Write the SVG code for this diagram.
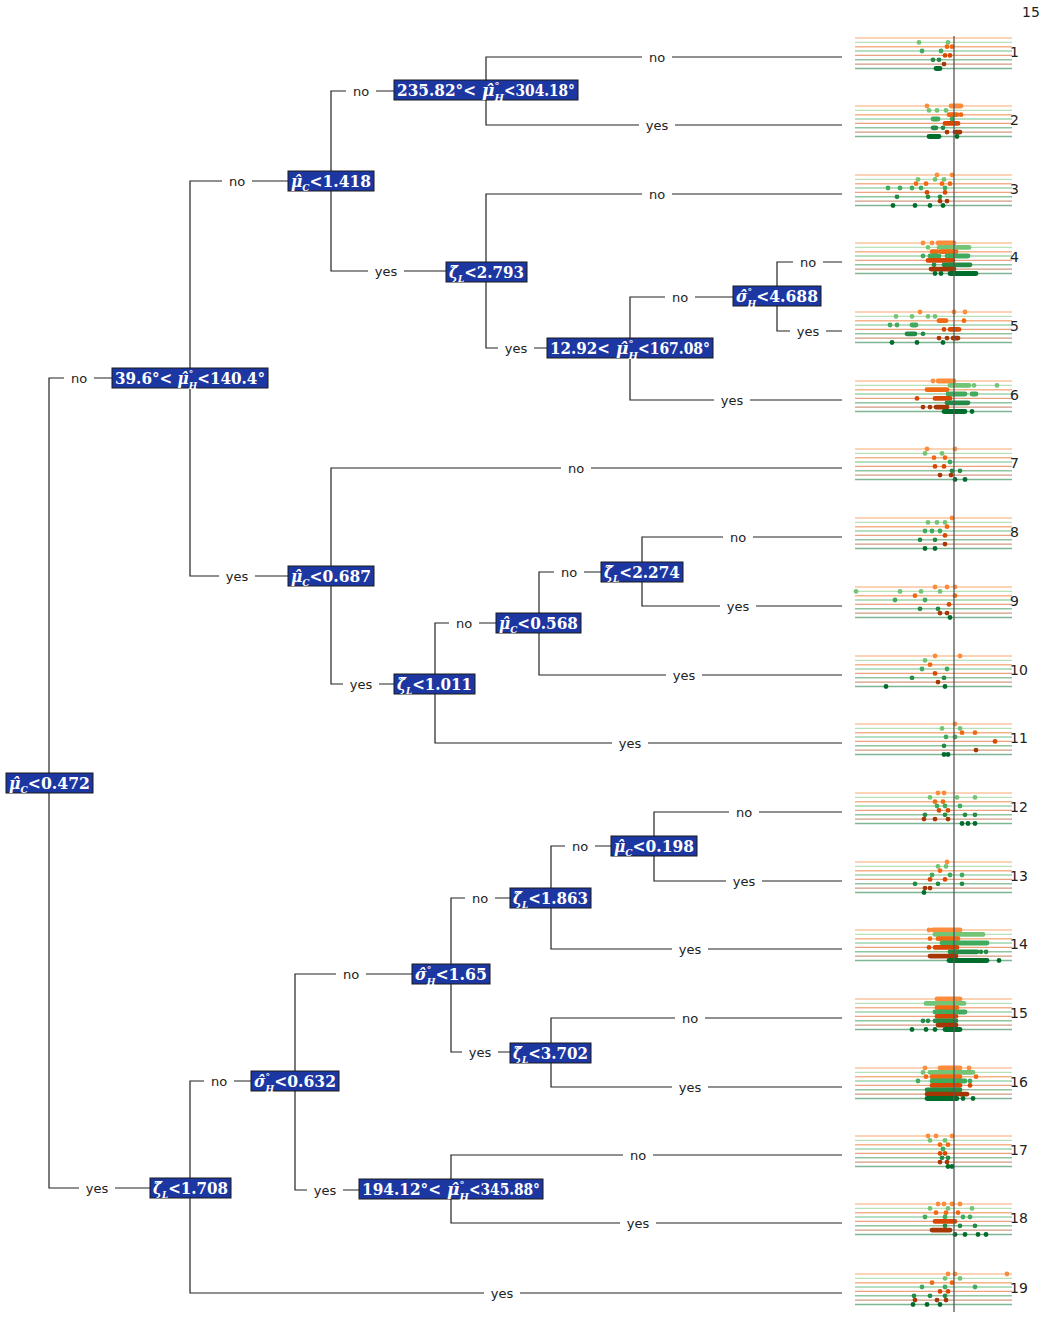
<svg xmlns="http://www.w3.org/2000/svg" width="1044" height="1336" viewBox="0 0 1044 1336">
<style>
.bx{fill:#1c36a2;stroke:#1a1a1a;stroke-width:1}
.bt{font-family:"DejaVu Serif","Liberation Serif",serif;font-weight:bold;font-size:17px;fill:#fff}
.i{font-style:italic}
.sb{font-size:10px}
.lb{font-family:"DejaVu Sans","Liberation Sans",sans-serif;font-size:13px;fill:#222;text-anchor:middle}
.nm{font-family:"DejaVu Sans","Liberation Sans",sans-serif;font-size:14px;fill:#222}
.cn{fill:none;stroke:#222;stroke-width:1.2}
.r0{fill:#fd8d3c;stroke:#fd8d3c}.r1{fill:#74c476;stroke:#74c476}.r2{fill:#f16913;stroke:#f16913}.r3{fill:#41ab5d;stroke:#41ab5d}
.r4{fill:#d94801;stroke:#d94801}.r5{fill:#238b45;stroke:#238b45}.r6{fill:#a63603;stroke:#a63603}.r7{fill:#006d2c;stroke:#006d2c}
.lf circle{stroke:none;r:2.4px}
.lf path{fill:none;stroke-width:4.8;stroke-linecap:round}
.ln line{stroke-width:1.4;opacity:.5}
</style>
<defs>
<g id="ln" class="ln">
<line class="r0" x1="855" x2="1012" y1="-19" y2="-19"/>
<line class="r1" x1="855" x2="1012" y1="-14.6" y2="-14.6"/>
<line class="r2" x1="855" x2="1012" y1="-10.3" y2="-10.3"/>
<line class="r3" x1="855" x2="1012" y1="-6" y2="-6"/>
<line class="r4" x1="855" x2="1012" y1="-1.6" y2="-1.6"/>
<line class="r5" x1="855" x2="1012" y1="2.8" y2="2.8"/>
<line class="r6" x1="855" x2="1012" y1="7.1" y2="7.1"/>
<line class="r7" x1="855" x2="1012" y1="11.5" y2="11.5"/>
</g>
</defs>
<rect width="1044" height="1336" fill="#fff"/>
<text class="nm" x="1022" y="17" font-size="13">15</text>

<g id="connectors">
<path class="cn" d="M64,378H49V1188H79M94,378H112M115,1188H150"/>
<path class="cn" d="M222,181H190V576H219M252,181H288M255,576H288"/>
<path class="cn" d="M346,91H331V271H368M376,91H394M404,271H446"/>
<path class="cn" d="M642,57H486V125H639M672,57H842M675,125H842"/>
<path class="cn" d="M642,194H486V348H498M672,194H842M534,348H547"/>
<path class="cn" d="M665,297H630V400H714M695,297H733M750,400H842"/>
<path class="cn" d="M793,262H777V331H790M823,262H842M826,331H842"/>
<path class="cn" d="M561,468H331V684H343M591,468H842M379,684H394"/>
<path class="cn" d="M449,623H435V743H612M479,623H496M648,743H842"/>
<path class="cn" d="M554,572H539V675H666M584,572H601M702,675H842"/>
<path class="cn" d="M723,537H642V606H720M753,537H842M756,606H842"/>
<path class="cn" d="M204,1081H190V1293H484M234,1081H251M520,1293H842"/>
<path class="cn" d="M336,974H295V1190H307M366,974H412M343,1190H359"/>
<path class="cn" d="M623,1155H451V1223H620M653,1155H842M656,1223H842"/>
<path class="cn" d="M465,898H451V1052H462M495,898H510M498,1052H510"/>
<path class="cn" d="M565,846H551V949H672M595,846H611M708,949H842"/>
<path class="cn" d="M729,812H654V881H726M759,812H842M762,881H842"/>
<path class="cn" d="M675,1018H551V1087H672M705,1018H842M708,1087H842"/>
<g class="lb">
<text x="79" y="383">no</text><text x="97" y="1193">yes</text>
<text x="237" y="186">no</text><text x="237" y="581">yes</text>
<text x="361" y="96">no</text><text x="386" y="276">yes</text>
<text x="657" y="62">no</text><text x="657" y="130">yes</text>
<text x="657" y="199">no</text><text x="516" y="353">yes</text>
<text x="680" y="302">no</text><text x="732" y="405">yes</text>
<text x="808" y="267">no</text><text x="808" y="336">yes</text>
<text x="576" y="473">no</text><text x="361" y="689">yes</text>
<text x="464" y="628">no</text><text x="630" y="748">yes</text>
<text x="569" y="577">no</text><text x="684" y="680">yes</text>
<text x="738" y="542">no</text><text x="738" y="611">yes</text>
<text x="219" y="1086">no</text><text x="502" y="1298">yes</text>
<text x="351" y="979">no</text><text x="325" y="1195">yes</text>
<text x="638" y="1160">no</text><text x="638" y="1228">yes</text>
<text x="480" y="903">no</text><text x="480" y="1057">yes</text>
<text x="580" y="851">no</text><text x="690" y="954">yes</text>
<text x="744" y="817">no</text><text x="744" y="886">yes</text>
<text x="690" y="1023">no</text><text x="690" y="1092">yes</text>
</g>
</g>

<g id="nR"><rect class="bx" x="6" y="773" width="87" height="20"/><text class="bt" x="9" y="789" textLength="81" lengthAdjust="spacingAndGlyphs"><tspan class="i">μ̂</tspan><tspan class="i sb" dy="4">C</tspan><tspan dy="-4">&lt;0.472</tspan></text></g>
<g id="nA"><rect class="bx" x="112" y="368" width="156" height="20"/><text class="bt" x="115" y="384" textLength="150" lengthAdjust="spacingAndGlyphs">39.6°&lt;<tspan class="i" dx="6">μ̂</tspan><tspan class="sb" dy="-7">°</tspan><tspan class="i sb" dx="-5" dy="12">H</tspan><tspan dy="-5">&lt;140.4°</tspan></text></g>
<g id="nB"><rect class="bx" x="288" y="171" width="86" height="20"/><text class="bt" x="291" y="187" textLength="80" lengthAdjust="spacingAndGlyphs"><tspan class="i">μ̂</tspan><tspan class="i sb" dy="4">C</tspan><tspan dy="-4">&lt;1.418</tspan></text></g>
<g id="nC"><rect class="bx" x="394" y="80" width="184" height="20"/><text class="bt" x="397" y="96" textLength="79" lengthAdjust="spacingAndGlyphs">235.82°&lt;</text><text class="bt" x="482" y="96"><tspan class="i">μ̂</tspan><tspan class="sb" dy="-7">°</tspan><tspan class="i sb" dx="-5" dy="12">H</tspan></text><text class="bt" x="504" y="96" textLength="71" lengthAdjust="spacingAndGlyphs">&lt;304.18°</text></g>
<g id="nD"><rect class="bx" x="446" y="262" width="81" height="20"/><text class="bt" x="449" y="278" textLength="75" lengthAdjust="spacingAndGlyphs"><tspan class="i">ζ̂</tspan><tspan class="i sb" dy="4">L</tspan><tspan dy="-4">&lt;2.793</tspan></text></g>
<g id="nF"><rect class="bx" x="547" y="338" width="166" height="20"/><text class="bt" x="550" y="354" textLength="60" lengthAdjust="spacingAndGlyphs">12.92&lt;</text><text class="bt" x="616" y="354"><tspan class="i">μ̂</tspan><tspan class="sb" dy="-7">°</tspan><tspan class="i sb" dx="-5" dy="12">H</tspan></text><text class="bt" x="638" y="354" textLength="72" lengthAdjust="spacingAndGlyphs">&lt;167.08°</text></g>
<g id="nG"><rect class="bx" x="733" y="286" width="88" height="20"/><text class="bt" x="736" y="302" textLength="82" lengthAdjust="spacingAndGlyphs"><tspan class="i">σ̂</tspan><tspan class="sb" dy="-7">°</tspan><tspan class="i sb" dx="-5" dy="12">H</tspan><tspan dy="-5">&lt;4.688</tspan></text></g>
<g id="nE"><rect class="bx" x="288" y="566" width="86" height="20"/><text class="bt" x="291" y="582" textLength="80" lengthAdjust="spacingAndGlyphs"><tspan class="i">μ̂</tspan><tspan class="i sb" dy="4">C</tspan><tspan dy="-4">&lt;0.687</tspan></text></g>
<g id="nH"><rect class="bx" x="394" y="674" width="81" height="20"/><text class="bt" x="397" y="690" textLength="75" lengthAdjust="spacingAndGlyphs"><tspan class="i">ζ̂</tspan><tspan class="i sb" dy="4">L</tspan><tspan dy="-4">&lt;1.011</tspan></text></g>
<g id="nI"><rect class="bx" x="496" y="613" width="85" height="20"/><text class="bt" x="499" y="629" textLength="79" lengthAdjust="spacingAndGlyphs"><tspan class="i">μ̂</tspan><tspan class="i sb" dy="4">C</tspan><tspan dy="-4">&lt;0.568</tspan></text></g>
<g id="nJ"><rect class="bx" x="601" y="562" width="82" height="20"/><text class="bt" x="604" y="578" textLength="76" lengthAdjust="spacingAndGlyphs"><tspan class="i">ζ̂</tspan><tspan class="i sb" dy="4">L</tspan><tspan dy="-4">&lt;2.274</tspan></text></g>
<g id="nK"><rect class="bx" x="150" y="1178" width="81" height="20"/><text class="bt" x="153" y="1194" textLength="75" lengthAdjust="spacingAndGlyphs"><tspan class="i">ζ̂</tspan><tspan class="i sb" dy="4">L</tspan><tspan dy="-4">&lt;1.708</tspan></text></g>
<g id="nL"><rect class="bx" x="251" y="1071" width="88" height="20"/><text class="bt" x="254" y="1087" textLength="82" lengthAdjust="spacingAndGlyphs"><tspan class="i">σ̂</tspan><tspan class="sb" dy="-7">°</tspan><tspan class="i sb" dx="-5" dy="12">H</tspan><tspan dy="-5">&lt;0.632</tspan></text></g>
<g id="nN"><rect class="bx" x="359" y="1179" width="184" height="20"/><text class="bt" x="362" y="1195" textLength="79" lengthAdjust="spacingAndGlyphs">194.12°&lt;</text><text class="bt" x="447" y="1195"><tspan class="i">μ̂</tspan><tspan class="sb" dy="-7">°</tspan><tspan class="i sb" dx="-5" dy="12">H</tspan></text><text class="bt" x="469" y="1195" textLength="71" lengthAdjust="spacingAndGlyphs">&lt;345.88°</text></g>
<g id="nM"><rect class="bx" x="412" y="964" width="78" height="20"/><text class="bt" x="415" y="980" textLength="72" lengthAdjust="spacingAndGlyphs"><tspan class="i">σ̂</tspan><tspan class="sb" dy="-7">°</tspan><tspan class="i sb" dx="-5" dy="12">H</tspan><tspan dy="-5">&lt;1.65</tspan></text></g>
<g id="nO"><rect class="bx" x="510" y="888" width="81" height="20"/><text class="bt" x="513" y="904" textLength="75" lengthAdjust="spacingAndGlyphs"><tspan class="i">ζ̂</tspan><tspan class="i sb" dy="4">L</tspan><tspan dy="-4">&lt;1.863</tspan></text></g>
<g id="nQ"><rect class="bx" x="611" y="836" width="86" height="20"/><text class="bt" x="614" y="852" textLength="80" lengthAdjust="spacingAndGlyphs"><tspan class="i">μ̂</tspan><tspan class="i sb" dy="4">C</tspan><tspan dy="-4">&lt;0.198</tspan></text></g>
<g id="nP"><rect class="bx" x="510" y="1043" width="81" height="20"/><text class="bt" x="513" y="1059" textLength="75" lengthAdjust="spacingAndGlyphs"><tspan class="i">ζ̂</tspan><tspan class="i sb" dy="4">L</tspan><tspan dy="-4">&lt;3.702</tspan></text></g>

<g id="leaf1" class="lf" transform="translate(0,57)"><use href="#ln"/>
<g class="r1" transform="translate(0,-14.6)"><circle cx="919"/><circle cx="948"/></g>
<g class="r2" transform="translate(0,-10.3)"><circle cx="947"/><circle cx="952"/></g>
<g class="r3" transform="translate(0,-6)"><circle cx="922"/><circle cx="941"/></g>
<g class="r4" transform="translate(0,-1.6)"><circle cx="945"/><circle cx="950"/></g>
<g class="r5" transform="translate(0,2.8)"><circle cx="933"/><circle cx="939"/></g>
<g class="r6" transform="translate(0,7.1)"><circle cx="944"/></g>
<g class="r7" transform="translate(0,11.5)"><path d="M936 0H940"/></g>
<text class="nm" x="1010" y="0">1</text></g>

<g id="leaf2" class="lf" transform="translate(0,125)"><use href="#ln"/>
<g class="r0" transform="translate(0,-19)"><circle cx="927"/><path d="M951 0H961"/></g>
<g class="r1" transform="translate(0,-14.6)"><circle cx="929"/><circle cx="937"/><circle cx="946"/></g>
<g class="r2" transform="translate(0,-10.3)"><path d="M949 0H957"/><circle cx="961"/></g>
<g class="r3" transform="translate(0,-6)"><path d="M933 0H938"/><circle cx="952"/></g>
<g class="r4" transform="translate(0,-1.6)"><path d="M945 0H958"/></g>
<g class="r5" transform="translate(0,2.8)"><path d="M933 0H936"/><circle cx="943"/></g>
<g class="r6" transform="translate(0,7.1)"><circle cx="947"/><path d="M955 0H960"/></g>
<g class="r7" transform="translate(0,11.5)"><path d="M929 0H939"/><circle cx="957"/></g>
<text class="nm" x="1010" y="0">2</text></g>

<g id="leaf3" class="lf" transform="translate(0,194)"><use href="#ln"/>
<g class="r0" transform="translate(0,-19)"><circle cx="937"/><circle cx="952"/></g>
<g class="r1" transform="translate(0,-14.6)"><circle cx="918"/><circle cx="935"/><circle cx="944"/></g>
<g class="r2" transform="translate(0,-10.3)"><circle cx="916"/><circle cx="926"/><circle cx="942"/><circle cx="950"/></g>
<g class="r3" transform="translate(0,-6)"><circle cx="888"/><circle cx="900"/><circle cx="912"/><circle cx="921"/><circle cx="945"/></g>
<g class="r4" transform="translate(0,-1.6)"><circle cx="927"/><circle cx="945"/></g>
<g class="r5" transform="translate(0,2.8)"><circle cx="897"/><circle cx="928"/><circle cx="940"/></g>
<g class="r6" transform="translate(0,7.1)"><circle cx="940"/><circle cx="947"/></g>
<g class="r7" transform="translate(0,11.5)"><circle cx="893"/><circle cx="915"/><circle cx="930"/><circle cx="943"/></g>
<text class="nm" x="1010" y="0">3</text></g>

<g id="leaf4" class="lf" transform="translate(0,262)"><use href="#ln"/>
<g class="r0" transform="translate(0,-19)"><circle cx="923"/><circle cx="932"/><path d="M938 0H954"/></g>
<g class="r1" transform="translate(0,-14.6)"><circle cx="928"/><path d="M939 0H956M958 0H969"/></g>
<g class="r2" transform="translate(0,-10.3)"><path d="M932 0H937M941 0H956"/></g>
<g class="r3" transform="translate(0,-6)"><circle cx="923"/><path d="M930 0H939M947 0H968"/></g>
<g class="r4" transform="translate(0,-1.6)"><path d="M928 0H953"/></g>
<g class="r5" transform="translate(0,2.8)"><circle cx="934"/><path d="M944 0H970"/></g>
<g class="r6" transform="translate(0,7.1)"><path d="M931 0H954"/></g>
<g class="r7" transform="translate(0,11.5)"><circle cx="935"/><circle cx="941"/><path d="M950 0H976"/></g>
<text class="nm" x="1010" y="0">4</text></g>

<g id="leaf5" class="lf" transform="translate(0,331)"><use href="#ln"/>
<g class="r0" transform="translate(0,-19)"><circle cx="920"/><circle cx="954"/><circle cx="965"/></g>
<g class="r1" transform="translate(0,-14.6)"><circle cx="896"/><circle cx="912"/><circle cx="928"/><circle cx="935"/></g>
<g class="r2" transform="translate(0,-10.3)"><path d="M939 0H946"/><circle cx="964"/></g>
<g class="r3" transform="translate(0,-6)"><circle cx="890"/><circle cx="897"/><path d="M912 0H916"/></g>
<g class="r4" transform="translate(0,-1.6)"><circle cx="944"/><path d="M950 0H959"/></g>
<g class="r5" transform="translate(0,2.8)"><path d="M907 0H915"/><circle cx="923"/></g>
<g class="r6" transform="translate(0,7.1)"><circle cx="939"/><circle cx="947"/><path d="M953 0H958"/></g>
<g class="r7" transform="translate(0,11.5)"><circle cx="892"/><circle cx="917"/><circle cx="943"/></g>
<text class="nm" x="1010" y="0">5</text></g>

<g id="leaf6" class="lf" transform="translate(0,400)"><use href="#ln"/>
<g class="r0" transform="translate(0,-19)"><circle cx="933"/><path d="M938 0H954"/></g>
<g class="r1" transform="translate(0,-14.6)"><path d="M950 0H969"/><circle cx="974"/><circle cx="997"/></g>
<g class="r2" transform="translate(0,-10.3)"><path d="M927 0H947"/></g>
<g class="r3" transform="translate(0,-6)"><path d="M948 0H965M972 0H976"/></g>
<g class="r4" transform="translate(0,-1.6)"><circle cx="917"/><path d="M935 0H950"/></g>
<g class="r5" transform="translate(0,2.8)"><path d="M947 0H968"/></g>
<g class="r6" transform="translate(0,7.1)"><circle cx="923"/><circle cx="930"/><path d="M936 0H947"/></g>
<g class="r7" transform="translate(0,11.5)"><path d="M944 0H965"/><circle cx="972"/></g>
<text class="nm" x="1010" y="0">6</text></g>

<g id="leaf7" class="lf" transform="translate(0,468)"><use href="#ln"/>
<g class="r0" transform="translate(0,-19)"><circle cx="927"/><circle cx="955"/></g>
<g class="r1" transform="translate(0,-14.6)"><circle cx="925"/><circle cx="942"/></g>
<g class="r2" transform="translate(0,-10.3)"><circle cx="934"/><circle cx="945"/></g>
<g class="r3" transform="translate(0,-6)"><circle cx="950"/></g>
<g class="r4" transform="translate(0,-1.6)"><circle cx="935"/><circle cx="944"/></g>
<g class="r5" transform="translate(0,2.8)"><circle cx="952"/><circle cx="960"/></g>
<g class="r6" transform="translate(0,7.1)"><circle cx="940"/><circle cx="951"/></g>
<g class="r7" transform="translate(0,11.5)"><circle cx="955"/><circle cx="965"/></g>
<text class="nm" x="1010" y="0">7</text></g>

<g id="leaf8" class="lf" transform="translate(0,537)"><use href="#ln"/>
<g class="r0" transform="translate(0,-19)"><circle cx="952"/></g>
<g class="r1" transform="translate(0,-14.6)"><circle cx="928"/><circle cx="937"/><circle cx="945"/></g>
<g class="r2" transform="translate(0,-10.3)"><circle cx="947"/></g>
<g class="r3" transform="translate(0,-6)"><circle cx="925"/><circle cx="932"/><circle cx="940"/></g>
<g class="r4" transform="translate(0,-1.6)"><circle cx="945"/></g>
<g class="r5" transform="translate(0,2.8)"><circle cx="920"/><circle cx="935"/></g>
<g class="r6" transform="translate(0,7.1)"><circle cx="945"/></g>
<g class="r7" transform="translate(0,11.5)"><circle cx="925"/><circle cx="935"/></g>
<text class="nm" x="1010" y="0">8</text></g>

<g id="leaf9" class="lf" transform="translate(0,606)"><use href="#ln"/>
<g class="r0" transform="translate(0,-19)"><circle cx="935"/><circle cx="947"/><circle cx="955"/></g>
<g class="r1" transform="translate(0,-14.6)"><circle cx="856"/><circle cx="900"/><circle cx="921"/><circle cx="940"/></g>
<g class="r2" transform="translate(0,-10.3)"><circle cx="915"/><circle cx="955"/></g>
<g class="r3" transform="translate(0,-6)"><circle cx="895"/><circle cx="925"/></g>
<g class="r4" transform="translate(0,-1.6)"><circle cx="949"/></g>
<g class="r5" transform="translate(0,2.8)"><circle cx="920"/><circle cx="938"/></g>
<g class="r6" transform="translate(0,7.1)"><circle cx="940"/><circle cx="947"/></g>
<g class="r7" transform="translate(0,11.5)"><circle cx="950"/></g>
<text class="nm" x="1010" y="0">9</text></g>

<g id="leaf10" class="lf" transform="translate(0,675)"><use href="#ln"/>
<g class="r0" transform="translate(0,-19)"><circle cx="935"/><circle cx="960"/></g>
<g class="r1" transform="translate(0,-14.6)"><circle cx="925"/></g>
<g class="r2" transform="translate(0,-10.3)"><circle cx="930"/></g>
<g class="r3" transform="translate(0,-6)"><circle cx="922"/><circle cx="947"/></g>
<g class="r4" transform="translate(0,-1.6)"><circle cx="935"/></g>
<g class="r5" transform="translate(0,2.8)"><circle cx="912"/><circle cx="944"/></g>
<g class="r6" transform="translate(0,7.1)"><circle cx="938"/></g>
<g class="r7" transform="translate(0,11.5)"><circle cx="886"/><circle cx="945"/></g>
<text class="nm" x="1010" y="0">10</text></g>

<g id="leaf11" class="lf" transform="translate(0,743)"><use href="#ln"/>
<g class="r0" transform="translate(0,-19)"><circle cx="955"/></g>
<g class="r1" transform="translate(0,-14.6)"><circle cx="942"/><circle cx="960"/></g>
<g class="r2" transform="translate(0,-10.3)"><circle cx="962"/><circle cx="975"/></g>
<g class="r3" transform="translate(0,-6)"><circle cx="946"/><circle cx="955"/></g>
<g class="r4" transform="translate(0,-1.6)"><circle cx="995"/></g>
<g class="r5" transform="translate(0,2.8)"><circle cx="944"/></g>
<g class="r6" transform="translate(0,7.1)"><circle cx="976"/></g>
<g class="r7" transform="translate(0,11.5)"><circle cx="944"/><circle cx="948"/></g>
<text class="nm" x="1010" y="0">11</text></g>

<g id="leaf12" class="lf" transform="translate(0,812)"><use href="#ln"/>
<g class="r0" transform="translate(0,-19)"><circle cx="938"/><circle cx="944"/></g>
<g class="r1" transform="translate(0,-14.6)"><circle cx="930"/><circle cx="957"/><circle cx="975"/></g>
<g class="r2" transform="translate(0,-10.3)"><circle cx="935"/><circle cx="943"/></g>
<g class="r3" transform="translate(0,-6)"><circle cx="937"/><circle cx="945"/><circle cx="960"/></g>
<g class="r4" transform="translate(0,-1.6)"><circle cx="939"/><circle cx="948"/></g>
<g class="r5" transform="translate(0,2.8)"><circle cx="925"/><circle cx="945"/><circle cx="965"/><circle cx="975"/></g>
<g class="r6" transform="translate(0,7.1)"><circle cx="924"/><circle cx="935"/><circle cx="948"/></g>
<g class="r7" transform="translate(0,11.5)"><circle cx="962"/><circle cx="968"/><circle cx="975"/></g>
<text class="nm" x="1010" y="0">12</text></g>

<g id="leaf13" class="lf" transform="translate(0,881)"><use href="#ln"/>
<g class="r0" transform="translate(0,-19)"><circle cx="947"/></g>
<g class="r1" transform="translate(0,-14.6)"><circle cx="938"/><circle cx="946"/></g>
<g class="r2" transform="translate(0,-10.3)"><circle cx="940"/></g>
<g class="r3" transform="translate(0,-6)"><circle cx="932"/><circle cx="950"/><circle cx="962"/></g>
<g class="r4" transform="translate(0,-1.6)"><circle cx="930"/><circle cx="945"/></g>
<g class="r5" transform="translate(0,2.8)"><circle cx="915"/><circle cx="938"/><circle cx="962"/></g>
<g class="r6" transform="translate(0,7.1)"><circle cx="925"/><circle cx="930"/></g>
<g class="r7" transform="translate(0,11.5)"><circle cx="924"/></g>
<text class="nm" x="1010" y="0">13</text></g>

<g id="leaf14" class="lf" transform="translate(0,949)"><use href="#ln"/>
<g class="r0" transform="translate(0,-19)"><circle cx="929"/><path d="M933 0H960"/></g>
<g class="r1" transform="translate(0,-14.6)"><path d="M935 0H983"/></g>
<g class="r2" transform="translate(0,-10.3)"><circle cx="930"/><path d="M938 0H958"/></g>
<g class="r3" transform="translate(0,-6)"><path d="M942 0H987"/></g>
<g class="r4" transform="translate(0,-1.6)"><circle cx="929"/><path d="M935 0H957"/></g>
<g class="r5" transform="translate(0,2.8)"><path d="M950 0H977"/><circle cx="981"/><circle cx="986"/></g>
<g class="r6" transform="translate(0,7.1)"><path d="M930 0H956"/></g>
<g class="r7" transform="translate(0,11.5)"><path d="M949 0H987"/><circle cx="999"/></g>
<text class="nm" x="1010" y="0">14</text></g>

<g id="leaf15" class="lf" transform="translate(0,1018)"><use href="#ln"/>
<g class="r0" transform="translate(0,-19)"><path d="M937 0H960"/></g>
<g class="r1" transform="translate(0,-14.6)"><path d="M926 0H964"/></g>
<g class="r2" transform="translate(0,-10.3)"><path d="M937 0H957"/></g>
<g class="r3" transform="translate(0,-6)"><path d="M935 0H965"/></g>
<g class="r4" transform="translate(0,-1.6)"><path d="M937 0H956"/></g>
<g class="r5" transform="translate(0,2.8)"><circle cx="923"/><circle cx="928"/><path d="M935 0H956"/></g>
<g class="r6" transform="translate(0,7.1)"><path d="M938 0H956"/></g>
<g class="r7" transform="translate(0,11.5)"><circle cx="912"/><circle cx="926"/><circle cx="935"/><path d="M945 0H960"/></g>
<text class="nm" x="1010" y="0">15</text></g>

<g id="leaf16" class="lf" transform="translate(0,1087)"><use href="#ln"/>
<g class="r0" transform="translate(0,-19)"><circle cx="925"/><path d="M940 0H960"/><circle cx="969"/></g>
<g class="r1" transform="translate(0,-14.6)"><circle cx="923"/><path d="M930 0H973"/></g>
<g class="r2" transform="translate(0,-10.3)"><circle cx="926"/><path d="M932 0H960"/><circle cx="976"/></g>
<g class="r3" transform="translate(0,-6)"><circle cx="918"/><path d="M932 0H965"/><circle cx="970"/></g>
<g class="r4" transform="translate(0,-1.6)"><path d="M932 0H960"/><circle cx="970"/></g>
<g class="r5" transform="translate(0,2.8)"><path d="M927 0H960"/></g>
<g class="r6" transform="translate(0,7.1)"><path d="M927 0H957M960 0H967"/></g>
<g class="r7" transform="translate(0,11.5)"><path d="M927 0H957"/><circle cx="963"/><circle cx="973"/></g>
<text class="nm" x="1010" y="0">16</text></g>

<g id="leaf17" class="lf" transform="translate(0,1155)"><use href="#ln"/>
<g class="r0" transform="translate(0,-19)"><circle cx="928"/><circle cx="936"/><circle cx="952"/></g>
<g class="r1" transform="translate(0,-14.6)"><circle cx="930"/><circle cx="945"/></g>
<g class="r2" transform="translate(0,-10.3)"><circle cx="940"/><circle cx="948"/></g>
<g class="r3" transform="translate(0,-6)"><circle cx="943"/></g>
<g class="r4" transform="translate(0,-1.6)"><circle cx="940"/><circle cx="945"/></g>
<g class="r5" transform="translate(0,2.8)"><circle cx="942"/><circle cx="948"/></g>
<g class="r6" transform="translate(0,7.1)"><circle cx="940"/><circle cx="947"/></g>
<g class="r7" transform="translate(0,11.5)"><circle cx="948"/><circle cx="952"/></g>
<text class="nm" x="1010" y="0">17</text></g>

<g id="leaf18" class="lf" transform="translate(0,1223)"><use href="#ln"/>
<g class="r0" transform="translate(0,-19)"><circle cx="938"/><circle cx="944"/><circle cx="952"/><circle cx="960"/></g>
<g class="r1" transform="translate(0,-14.6)"><circle cx="930"/><circle cx="948"/><circle cx="972"/></g>
<g class="r2" transform="translate(0,-10.3)"><circle cx="936"/><circle cx="946"/><circle cx="958"/></g>
<g class="r3" transform="translate(0,-6)"><circle cx="925"/><circle cx="945"/><circle cx="963"/><circle cx="970"/></g>
<g class="r4" transform="translate(0,-1.6)"><path d="M935 0H955"/></g>
<g class="r5" transform="translate(0,2.8)"><circle cx="945"/><circle cx="960"/><circle cx="975"/></g>
<g class="r6" transform="translate(0,7.1)"><path d="M932 0H950"/></g>
<g class="r7" transform="translate(0,11.5)"><circle cx="955"/><circle cx="965"/><circle cx="978"/><circle cx="986"/></g>
<text class="nm" x="1010" y="0">18</text></g>

<g id="leaf19" class="lf" transform="translate(0,1293)"><use href="#ln"/>
<g class="r0" transform="translate(0,-19)"><circle cx="948"/><circle cx="955"/><circle cx="1007"/></g>
<g class="r1" transform="translate(0,-14.6)"><circle cx="945"/><circle cx="960"/></g>
<g class="r2" transform="translate(0,-10.3)"><circle cx="932"/><circle cx="952"/></g>
<g class="r3" transform="translate(0,-6)"><circle cx="922"/><circle cx="945"/><circle cx="975"/></g>
<g class="r4" transform="translate(0,-1.6)"><circle cx="940"/><circle cx="948"/></g>
<g class="r5" transform="translate(0,2.8)"><circle cx="914"/><circle cx="930"/><circle cx="945"/></g>
<g class="r6" transform="translate(0,7.1)"><circle cx="915"/><circle cx="937"/><circle cx="946"/></g>
<g class="r7" transform="translate(0,11.5)"><circle cx="913"/><circle cx="927"/><circle cx="940"/></g>
<text class="nm" x="1010" y="0">19</text></g>

<line x1="954" y1="36" x2="954" y2="1312" stroke="#555" stroke-width="1.3"/>
</svg>
